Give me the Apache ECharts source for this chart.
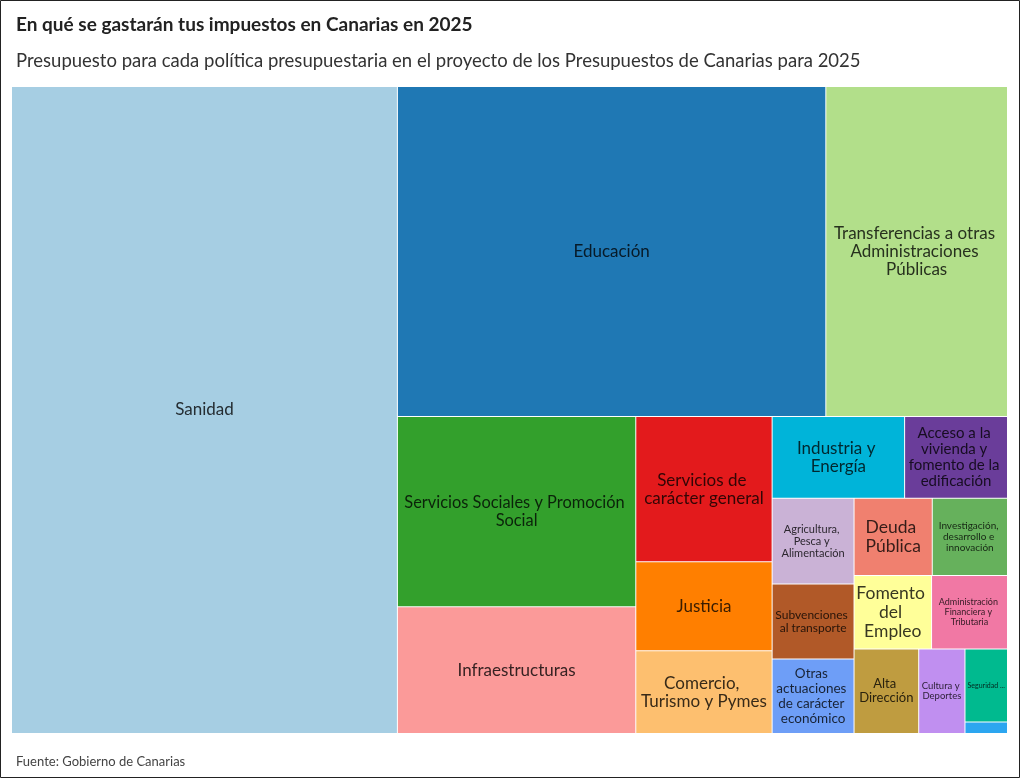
<!DOCTYPE html>
<html><head><meta charset="utf-8">
<script src="https://cdn.jsdelivr.net/npm/echarts@6/dist/echarts.min.js"></script>
<style>html,body{margin:0;padding:0;background:#fff}#c{width:1020px;height:778px}</style>
</head><body><div id="c"></div>
<script>
// Data (millones de euros, estimados del gráfico)
const categories = ["Sanidad","Educación","Transferencias a otras Administraciones Públicas","Servicios Sociales y Promoción Social","Infraestructuras","Servicios de carácter general","Justicia","Comercio, Turismo y Pymes","Industria y Energía","Acceso a la vivienda y fomento de la edificación","Agricultura, Pesca y Alimentación","Subvenciones al transporte","Otras actuaciones de carácter económico","Deuda Pública","Investigación, desarrollo e innovación","Fomento del Empleo","Administración Financiera y Tributaria","Alta Dirección","Cultura y Deportes","Seguridad y Protección Civil","Política Exterior"];
const values = [4339,2457,1042,788,525,344,211,196,188,146,122,107,106,105,101,99,97,95,68,54,8.5];
// styles
const colors = ["#a6cee3","#1f78b4","#b2df8a","#33a02c","#fb9a99","#e31a1c","#ff7f00","#fdbf6f","#00b4d9","#6a3d9a","#cab2d6","#b15928","#6e9ef7","#f0806f","#66b15c","#ffff99","#f178a4","#bf9c40","#c08ff0","#00ba8f","#2ca6f0"];
const fontSizes = [17,17,17,16.4,17,17,17,17,17,15,11,12,13.5,17.5,10,17.5,9,13,9.5,7,0];

function darken(hex, k){
  const n = parseInt(hex.slice(1),16);
  const r=Math.round(((n>>16)&255)*k), g=Math.round(((n>>8)&255)*k), b=Math.round((n&255)*k);
  return 'rgb('+r+','+g+','+b+')';
}

const data = categories.map((name,i)=>{
  const fs = fontSizes[i]||10;
  return {
    name, value: values[i],
    itemStyle:{color:colors[i]},
    label:{show: fontSizes[i]>0, fontSize: fs, lineHeight: Math.round(fs*1.08),
      overflow: fs < 8 ? 'truncate' : 'break', ellipsis:'...',
      color: darken(colors[i],0.22)}
  };
});

const chart = echarts.init(document.getElementById('c'));
chart.setOption({
  animation:false,
  title:[
    {text:"En qué se gastarán tus impuestos en Canarias en 2025", left:11, top:10,
     textStyle:{fontFamily:"Lato", fontWeight:"bold", fontSize:19, color:"#222"}},
    {text:"Presupuesto para cada política presupuestaria en el proyecto de los Presupuestos de Canarias para 2025", left:11, top:47,
     textStyle:{fontFamily:"Lato", fontWeight:"normal", fontSize:18.5, color:"#333"}},
    {text:"Fuente: Gobierno de Canarias", left:11, top:750,
     textStyle:{fontFamily:"Lato", fontWeight:"normal", fontSize:13, color:"#444"}}
  ],
  graphic:[{type:'rect', shape:{x:0.5,y:0.5,width:1019,height:777}, style:{fill:null, stroke:'#222', lineWidth:1}, silent:true}],
  series:[{
    type:'treemap',
    left:12, top:87, width:995, height:646,
    squareRatio:1,
    roam:false, nodeClick:false,
    breadcrumb:{show:false},
    label:{show:true, position:'inside', align:'center', verticalAlign:'middle', fontFamily:'Lato', padding:1, overflow:'break', formatter:'{b}'},
    upperLabel:{show:false},
    itemStyle:{borderColor:'#fff', borderWidth:0, gapWidth:1},
    levels:[{itemStyle:{borderWidth:0, gapWidth:1, borderColor:'#fff'}}],
    data: data
  }]
});
</script></body></html>
